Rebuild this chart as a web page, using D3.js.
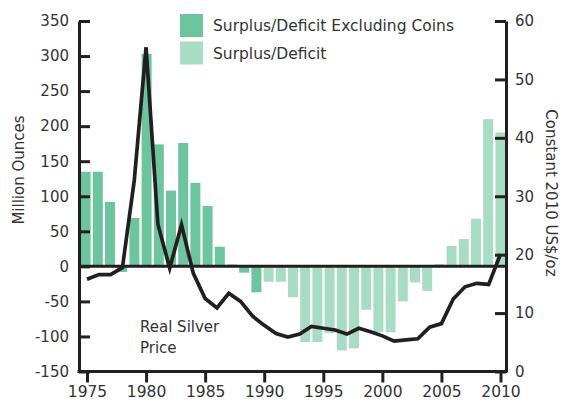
<!doctype html>
<html lang="en">
<head>
  <meta charset="utf-8">
  <title>silver</title>
  <style>
  body { margin: 0; background: #fff; }
  svg { font-family: "DejaVu Sans", sans-serif; }
  .axis path, .axis line { stroke: #231f20; stroke-width: 3; }
  </style>
</head>
<body>
  <div id="chart"></div>
  <script src="https://d3js.org/d3.v7.min.js" charset="utf-8"></script>
<script>

// ---------------- data
var barYears = d3.range(1975, 2010);   // 35 bars
var exclCoins = [135, 135, 92, -8, 69, 303, 174, 108, 176, 119, 86, 28, null, -9, -37,
                 null, null, null, null, null, null, null, null, null, null,
                 null, null, null, null, null, null, null, null, null, null];
var surplus = [null, null, null, null, null, null, null, null, null, null, null, null, 3, null, null,
               -22, -22, -44, -108, -108, -95, -120, -117, -62, -94,
               -94, -50, -23, -35, 3, 29, 39, 68, 210, 191];

var priceYears = d3.range(1975, 2011);
var price = [15.8, 16.6, 16.6, 17.8, 32.7, 55.5, 25.2, 17.7, 25.1, 16.8,
             12.5, 10.9, 13.4, 12.0, 9.5, 7.9, 6.5, 5.9, 6.4, 7.7,
             7.4, 7.1, 6.4, 7.4, 6.8, 6.1, 5.2, 5.4, 5.6, 7.6,
             8.2, 12.4, 14.5, 15.1, 14.9, 20.1];

var leftTicks = [-150, -100, -50, 0, 50, 100, 150, 200, 250, 300, 350];
var rightTicks = [0, 10, 20, 30, 40, 50, 60];
var yearTicks = [1975, 1980, 1985, 1990, 1995, 2000, 2005, 2010];

var darkGreen = "#6dc5a0", lightGreen = "#a9dcc4";

//----------------- svg
var width = 561, height = 403;
var svg = d3.select("#chart").append("svg")
    .attr("width", width)
    .attr("height", height);

var pLeft = 79, pRight = 506, pTop = 21, pBottom = 371.5;

var yL = d3.scaleLinear().domain([-150, 350]).range([pBottom, pTop]);
var yR = d3.scaleLinear().domain([0, 60]).range([pBottom, pTop]);
var xYear = d3.scaleLinear().domain([1975, 2010]).range([87, 500.5]);
var xBar = d3.scaleBand().domain(barYears).range([80, pRight]).paddingInner(0.18).paddingOuter(0.05);

//----------------- bars
function drawBars(vals, color) {
  svg.append("g").selectAll("rect")
    .data(barYears.map(function(y, i) { return {year: y, v: vals[i]}; }).filter(function(d) { return d.v != null; }))
    .enter().append("rect")
    .attr("x", function(d) { return xBar(d.year); })
    .attr("width", xBar.bandwidth())
    .attr("y", function(d) { return yL(Math.max(0, d.v)); })
    .attr("height", function(d) { return Math.abs(yL(d.v) - yL(0)); })
    .style("fill", color);
}
drawBars(surplus, lightGreen);
drawBars(exclCoins, darkGreen);

// zero line
svg.append("line")
  .attr("x1", pLeft).attr("x2", pRight)
  .attr("y1", yL(0)).attr("y2", yL(0))
  .style("stroke", "#231f20").style("stroke-width", 3);

//----------------- axes
function styleText(size) {
  return function(g) {
    g.selectAll("text")
      .style("font-size", size + "px")
      .style("font-family", "'DejaVu Sans', sans-serif")
      .style("fill", "#333");
  };
}
var plain = function(d) { return String(d); };

svg.append("g").attr("class", "axis")
  .attr("transform", "translate(" + pLeft + ",0)")
  .call(d3.axisLeft(yL).tickValues(leftTicks).tickFormat(plain).tickSizeInner(-11).tickSizeOuter(0).tickPadding(10))
  .call(styleText(15));

svg.append("g").attr("class", "axis")
  .attr("transform", "translate(" + pRight + ",0)")
  .call(d3.axisRight(yR).tickValues(rightTicks).tickFormat(plain).tickSizeInner(-11).tickSizeOuter(0).tickPadding(9))
  .call(styleText(15));

var xa = svg.append("g").attr("class", "axis")
  .attr("transform", "translate(0," + pBottom + ")")
  .call(d3.axisBottom(xYear).tickValues(yearTicks).tickFormat(plain).tickSize(11).tickPadding(3))
  .call(styleText(15.5));
xa.select(".domain").remove();
xa.append("line")
  .attr("x1", pLeft - 1.5).attr("x2", pRight + 1.5)
  .style("stroke", "#231f20").style("stroke-width", 3);

//----------------- price line
svg.append("path")
  .datum(price)
  .attr("d", d3.line()
      .x(function(d, i) { return xYear(priceYears[i]); })
      .y(function(d) { return yR(d); }))
  .style("fill", "none")
  .style("stroke", "#231f20")
  .style("stroke-width", 3.7)
  .style("stroke-linejoin", "miter");

//----------------- labels
svg.append("text")
  .attr("transform", "translate(24,170) rotate(-90)")
  .attr("text-anchor", "middle")
  .style("font-size", "15px").style("fill", "#333")
  .text("Million Ounces");

svg.append("text")
  .attr("transform", "translate(546,193) rotate(90)")
  .attr("text-anchor", "middle")
  .style("font-size", "15px").style("fill", "#333")
  .text("Constant 2010 US$/oz");

var note = svg.append("text")
  .style("font-size", "15px").style("fill", "#333");
note.append("tspan").attr("x", 140).attr("y", 332).text("Real Silver");
note.append("tspan").attr("x", 140).attr("y", 353).text("Price");

// legend
var legend = svg.append("g").attr("transform", "translate(180,14)");
[["Surplus/Deficit Excluding Coins", darkGreen], ["Surplus/Deficit", lightGreen]].forEach(function(d, i) {
  legend.append("rect")
    .attr("x", 0).attr("y", i * 27.5)
    .attr("width", 23).attr("height", 23)
    .style("fill", d[1]);
  legend.append("text")
    .attr("x", 33).attr("y", i * 27.5 + 17)
    .style("font-size", "15.5px").style("fill", "#333")
    .text(d[0]);
});

</script>
</body>
</html>
